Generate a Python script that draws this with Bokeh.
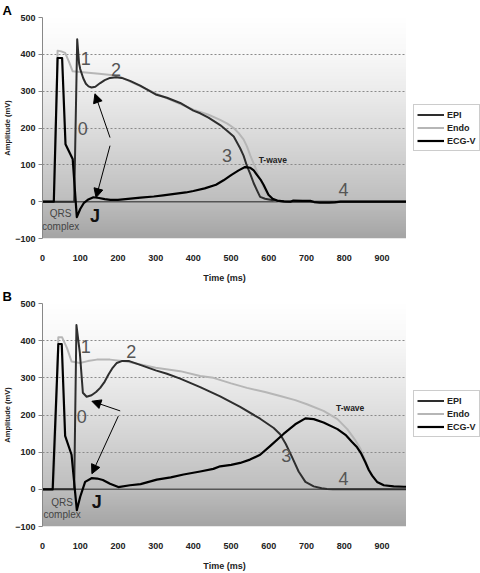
import numpy as np
from bokeh.plotting import figure
from bokeh.models import (Legend, LegendItem, Label, Arrow, NormalHead, Span,
                          FixedTicker, Range1d, Title)
from bokeh.layouts import column, row
from bokeh.embed import file_html
from bokeh.resources import INLINE

# ---------------- data ----------------
time_ticks = [0, 100, 200, 300, 400, 500, 600, 700, 800, 900]
amp_ticks = [-100, 0, 100, 200, 300, 400, 500]
series_names = ["EPI", "Endo", "ECG-V"]

# Panel A
a_epi_t = [0, 84, 92, 97, 100, 108, 115, 122, 130, 140, 153, 165, 179, 195, 210, 232, 259, 300,
           330, 365, 400, 418, 440, 471, 490, 507, 524, 533, 542, 551, 560, 569, 577, 590, 604,
           630, 645, 965]
a_epi_v = [0, 0, 441, 375, 360, 335, 320, 313, 310, 312, 322, 330, 336, 338, 336, 328, 315, 291,
           282, 268, 247, 240, 228, 208, 192, 177, 145, 125, 97, 75, 50, 30, 13, 8, 5,
           1, 0, 0]
a_endo_t = [0, 30, 40, 50, 60, 70, 80, 100, 150, 188, 210, 250, 300, 350, 400, 440, 471, 490,
            507, 520, 533, 542, 551, 560, 569, 578, 586, 595, 604, 615, 630, 965]
a_endo_v = [0, 0, 410, 408, 404, 380, 354, 352, 347, 343, 337, 318, 294, 272, 250, 236, 222, 212,
            200, 186, 169, 150, 125, 103, 81, 58, 37, 20, 8, 3, 0, 0]
a_ecg_t = [0, 30, 40, 52, 61, 80, 91, 100, 110, 120, 135, 150, 165, 180, 200, 220, 240, 260,
           295, 320, 350, 380, 400, 430, 460, 480, 500, 520, 537, 551, 560, 569, 578, 586, 599,
           610, 622, 640, 657, 665, 690, 710, 720, 735, 760, 775, 790, 965]
a_ecg_v = [0, 0, 390, 390, 156, 116, -42, -20, -3, 5, 12, 10, 7, 5, 5, 7, 9, 11,
           14, 17, 21, 25, 29, 36, 46, 58, 72, 85, 94, 92, 85, 72, 60, 46, 19,
           8, 3, 1, 0, 3, 2, 2, -1, -3, -3, -2, 0, 0]

# Panel B
b_epi_t = [0, 84, 90, 99, 107, 117, 130, 142, 153, 165, 175, 186, 197, 210, 230, 259, 300, 330,
           365, 418, 471, 524, 577, 613, 630, 645, 661, 679, 697, 719, 740, 754, 770, 965]
b_epi_v = [0, 0, 442, 367, 260, 249, 253, 262, 273, 290, 309, 327, 340, 345, 345, 335, 320, 311,
           298, 275, 250, 222, 190, 165, 148, 122, 88, 48, 20, 8, 3, 1, 0, 0]
b_endo_t = [0, 30, 42, 52, 65, 77, 99, 120, 144, 179, 223, 260, 300, 365, 418, 453, 500, 542,
            590, 630, 670, 701, 745, 782, 808, 820, 830, 843, 856, 865, 874, 887, 905, 931, 950, 965]
b_endo_v = [0, 0, 409, 409, 380, 344, 340, 345, 349, 349, 344, 336, 327, 318, 305, 300, 285, 273,
            262, 251, 240, 229, 211, 189, 162, 145, 131, 109, 78, 55, 37, 19, 9, 4, 2, 2]
b_ecg_t = [0, 27, 42, 51, 60, 77, 91, 100, 113, 130, 145, 160, 179, 201, 232, 260, 303, 340,
           374, 418, 453, 471, 500, 524, 550, 577, 604, 639, 670, 697, 719, 745, 782, 805, 820,
           834, 845, 856, 865, 874, 887, 905, 931, 958, 965]
b_ecg_v = [0, 0, 391, 391, 144, 93, -56, -20, 20, 30, 29, 25, 15, 6, 11, 14, 26, 32,
           40, 48, 55, 62, 66, 71, 80, 93, 117, 149, 175, 191, 189, 180, 162, 145, 128,
           113, 96, 73, 52, 37, 20, 11, 8, 7, 7]

# annotation texts and anchor points (data units)
a_notes = [("1", 115, 388), ("2", 195, 359), ("0", 107, 200), ("3", 489, 125), ("4", 798, 33)]
b_notes = [("1", 115, 384), ("2", 235, 371), ("0", 104, 195), ("3", 646, 91), ("4", 798, 29)]
a_twave = (573, 112)
b_twave = (778, 218)
a_j = (139, -38)
b_j = (144, -34)
a_qrs = (48, -32, -67)
b_qrs = (52, -36, -69)
a_arrows = [(179, 174, 139, 293), (179, 152, 142, 11)]
b_arrows = [(206, 211, 131, 237), (201, 197, 131, 42)]

X0, X1 = 0, 965
Y0, Y1 = -100, 500
FONT = "Liberation Sans"

# background gradient (style, not data)
grad_y = np.array([-100, 0, 100, 200, 300, 400, 500], dtype=float)
grad_g = np.array([165, 190, 206, 222, 236, 248, 255], dtype=float)


def gradient_image():
    n = 240
    ys = np.linspace(Y0, Y1, n)
    g = np.interp(ys, grad_y, grad_g).astype(np.uint8)
    img = np.zeros((n, 1), dtype=np.uint32)
    view = img.view(dtype=np.uint8).reshape((n, 1, 4))
    view[:, 0, 0] = g
    view[:, 0, 1] = g
    view[:, 0, 2] = g
    view[:, 0, 3] = 255
    return img


MAIN_W, LEG_W = 406, 74
STYLES = {"EPI": dict(line_color="#2e2e2e", line_width=2),
          "Endo": dict(line_color="#b6b6b6", line_width=2),
          "ECG-V": dict(line_color="#000000", line_width=2.2)}


def make_panel(letter, height, b_top, b_bottom, epi, endo, ecg, notes, twave, jpos, qrs, arrows,
               leg_y):
    p = figure(width=MAIN_W, height=height, output_backend="svg", toolbar_location=None,
               x_range=Range1d(X0, X1), y_range=Range1d(Y0, Y1),
               min_border_left=42, min_border_top=b_top, min_border_bottom=b_bottom,
               min_border_right=0)
    p.title = Title(text=letter, align="left", offset=-40, standoff=0,
                    text_font=FONT, text_font_size="13px", text_font_style="bold",
                    text_color="black")
    p.outline_line_color = None
    p.background_fill_color = "white"
    p.border_fill_color = "white"

    p.image_rgba(image=[gradient_image()], x=X0, y=Y0, dw=X1 - X0, dh=Y1 - Y0, level="image")

    # axes
    p.xaxis.ticker = FixedTicker(ticks=time_ticks)
    p.yaxis.ticker = FixedTicker(ticks=amp_ticks)
    p.xaxis.axis_line_color = None
    p.xaxis.major_tick_line_color = None
    p.xaxis.minor_tick_line_color = None
    p.xaxis.major_label_standoff = 10
    p.xaxis.axis_label = "Time (ms)"
    p.xaxis.axis_label_standoff = 9
    p.yaxis.axis_label = "Amplitude (mV)"
    p.yaxis.axis_label_standoff = 0
    p.yaxis.axis_line_color = "#888888"
    p.yaxis.major_tick_line_color = "#888888"
    p.yaxis.major_tick_out = 4
    p.yaxis.major_tick_in = 0
    p.yaxis.minor_tick_line_color = None
    p.yaxis.major_label_standoff = 3
    for ax in (p.xaxis, p.yaxis):
        ax.major_label_text_font = FONT
        ax.major_label_text_font_style = "bold"
        ax.major_label_text_font_size = "9px"
        ax.major_label_text_color = "#222222"
        ax.axis_label_text_font = FONT
        ax.axis_label_text_font_style = "bold"
        ax.axis_label_text_color = "#222222"
    p.xaxis.axis_label_text_font_size = "9px"
    p.yaxis.axis_label_text_font_size = "7.5px"

    p.xgrid.grid_line_color = None
    p.ygrid.grid_line_color = "#8a8a8a"
    p.ygrid.grid_line_dash = "2 2"
    p.ygrid.grid_line_width = 1

    p.add_layout(Span(location=0, dimension="width", line_color="#555555",
                      line_width=1.5, level="underlay"))

    series = {"EPI": epi, "Endo": endo, "ECG-V": ecg}
    for name in ("Endo", "EPI", "ECG-V"):
        p.line(series[name][0], series[name][1], line_join="round", **STYLES[name])

    for txt, x, y in notes:
        p.add_layout(Label(x=x, y=y, text=txt, text_font=FONT, text_font_size="18px",
                           text_color="#555555", text_align="center", text_baseline="middle"))
    p.add_layout(Label(x=twave[0], y=twave[1], text="T-wave", text_font=FONT,
                       text_font_size="8.5px", text_font_style="bold", text_color="#222222",
                       text_align="left", text_baseline="middle"))
    p.add_layout(Label(x=jpos[0], y=jpos[1], text="J", text_font=FONT, text_font_size="18px",
                       text_font_style="bold", text_color="#111111",
                       text_align="center", text_baseline="middle"))
    p.add_layout(Label(x=qrs[0], y=qrs[1], text="QRS", text_font=FONT, text_font_size="10px",
                       text_color="#444444", text_align="center", text_baseline="middle"))
    p.add_layout(Label(x=qrs[0], y=qrs[2], text="complex", text_font=FONT, text_font_size="10px",
                       text_color="#444444", text_align="center", text_baseline="middle"))
    for xs, ys, xe, ye in arrows:
        p.add_layout(Arrow(end=NormalHead(size=9, fill_color="black", line_color="black"),
                           x_start=xs, y_start=ys, x_end=xe, y_end=ye,
                           line_color="black", line_width=1))

    # legend strip to the right of the plot frame (series kept out of its view range)
    lg = figure(width=LEG_W, height=height, output_backend="svg", toolbar_location=None,
                x_axis_type=None, y_axis_type=None, x_range=Range1d(0, 1),
                y_range=Range1d(5000, 5001), min_border=0)
    lg.outline_line_color = None
    lg.background_fill_color = "white"
    lg.border_fill_color = "white"
    items = []
    for name in series_names:
        r = lg.line(series[name][0], series[name][1], **STYLES[name])
        items.append(LegendItem(label=name, renderers=[r]))
    legend = Legend(items=items, location=(7, leg_y), margin=0, padding=3,
                    spacing=0, glyph_width=27, glyph_height=13, label_height=13,
                    label_standoff=3,
                    label_text_font=FONT, label_text_font_style="bold",
                    label_text_font_size="9px", label_text_color="#222222",
                    border_line_color="#999999", border_line_width=1,
                    background_fill_color="white", background_fill_alpha=1)
    lg.add_layout(legend)
    return row(p, lg, spacing=0)


pA = make_panel("A", 285, 14, 43, (a_epi_t, a_epi_v), (a_endo_t, a_endo_v), (a_ecg_t, a_ecg_v),
                a_notes, a_twave, a_j, a_qrs, a_arrows, 87)
pB = make_panel("B", 288, 18, 45, (b_epi_t, b_epi_v), (b_endo_t, b_endo_v), (b_ecg_t, b_ecg_v),
                b_notes, b_twave, b_j, b_qrs, b_arrows, 89)

layout = column(pA, pB, spacing=0)

open("out.html", "w").write(file_html(layout, INLINE))
